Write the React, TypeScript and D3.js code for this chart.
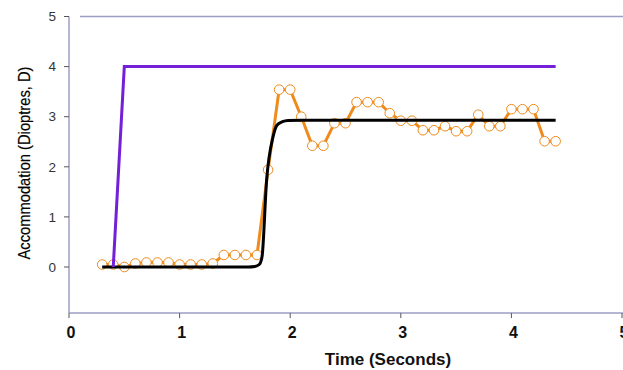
import React from 'react';
import * as d3 from 'd3';

// measured response (orange), every 0.1 s
const times = [0.3, 0.4, 0.5, 0.6, 0.7, 0.8, 0.9, 1.0, 1.1, 1.2, 1.3, 1.4, 1.5, 1.6, 1.7, 1.8, 1.9, 2.0, 2.1, 2.2, 2.3, 2.4, 2.5, 2.6, 2.7, 2.8, 2.9, 3.0, 3.1, 3.2, 3.3, 3.4, 3.5, 3.6, 3.7, 3.8, 3.9, 4.0, 4.1, 4.2, 4.3, 4.4];
const measured = [0.05, 0.05, 0.0, 0.07, 0.09, 0.09, 0.09, 0.05, 0.05, 0.05, 0.07, 0.24, 0.24, 0.24, 0.24, 1.94, 3.54, 3.54, 3.0, 2.42, 2.42, 2.87, 2.87, 3.29, 3.29, 3.29, 3.07, 2.92, 2.92, 2.73, 2.73, 2.81, 2.71, 2.71, 3.04, 2.81, 2.81, 3.15, 3.15, 3.15, 2.51, 2.51];

// stimulus (purple)
const stimTimes = [0.3, 0.4, 0.5, 4.4];
const stimValues = [0, 0, 4, 4];

// model fit (black)
const fitTimes = [0.3, 1.62, 1.68, 1.72, 1.745, 1.787, 1.845, 1.88, 1.93, 1.98, 2.1, 4.4];
const fitValues = [0, 0, 0.01, 0.05, 0.2, 1.74, 2.6, 2.83, 2.9, 2.925, 2.93, 2.93];

const xTicks = [0, 1, 2, 3, 4, 5];
const yTicks = [0, 1, 2, 3, 4, 5];

const width = 623;
const height = 370;
const axisColor = '#9d9dc6';

export default function App() {
  const x = d3.scaleLinear().domain([0, 5]).range([69, 622]);
  const y = d3.scaleLinear().domain([0, 5]).range([267, 16.5]);
  const yBottom = y(-0.92);

  const line = d3.line<[number, number]>().x(d => x(d[0])).y(d => y(d[1]));
  const smooth = d3.line<[number, number]>().x(d => x(d[0])).y(d => y(d[1])).curve(d3.curveMonotoneX);

  const meas: [number, number][] = times.map((t, i) => [t, measured[i]]);
  const stim: [number, number][] = stimTimes.map((t, i) => [t, stimValues[i]]);
  const fit: [number, number][] = fitTimes.map((t, i) => [t, fitValues[i]]);

  return (
    <svg width={width} height={height} style={{ position: 'absolute', left: 0, top: 0, background: '#fff' }}
      fontFamily="Arial, 'Liberation Sans', sans-serif">
      {/* frame */}
      <line x1={x(0)} x2={width} y1={yBottom} y2={yBottom} stroke={axisColor} strokeWidth={1.5} />
      <line x1={x(0)} x2={x(0)} y1={y(5)} y2={yBottom} stroke={axisColor} strokeWidth={1.5} />
      <line x1={80} x2={width} y1={y(5)} y2={y(5)} stroke={axisColor} strokeWidth={1.5} />

      {yTicks.map(t => (
        <g key={'y' + t}>
          <line x1={x(0) - 5} x2={x(0)} y1={y(t)} y2={y(t)} stroke="#555" strokeWidth={1} />
          <text x={56} y={y(t)} dy="0.35em" textAnchor="end" fontSize={13.5} fill="#333">{t}</text>
        </g>
      ))}
      {xTicks.map(t => (
        <g key={'x' + t}>
          <line x1={x(t)} x2={x(t)} y1={yBottom} y2={yBottom + 5} stroke="#555" strokeWidth={1} />
          <text x={x(t) + 2} y={338} textAnchor="middle" fontSize={16} fontWeight="bold" fill="#111">{t}</text>
        </g>
      ))}

      <text x={388} y={365} textAnchor="middle" fontSize={17} fontWeight="bold" fill="#111">Time (Seconds)</text>
      <text transform="translate(30,163) rotate(-90)" textAnchor="middle" fontSize={17} fill="#000"
        stroke="#000" strokeWidth={0.2}
        textLength={193} lengthAdjust="spacingAndGlyphs">Accommodation (Dioptres, D)</text>

      {/* measured */}
      <path d={line(meas) ?? ''} fill="none" stroke="#ef8b1c" strokeWidth={3} />
      {meas.map((d, i) => (
        <circle key={i} cx={x(d[0])} cy={y(d[1])} r={4.8} fill="#fff" stroke="#ef8b1c" strokeWidth={1} />
      ))}

      {/* fit */}
      <path d={smooth(fit) ?? ''} fill="none" stroke="#000" strokeWidth={3} />

      {/* stimulus */}
      <path d={line(stim.slice(1)) ?? ''} fill="none" stroke="#7420d8" strokeWidth={3} />
    </svg>
  );
}
